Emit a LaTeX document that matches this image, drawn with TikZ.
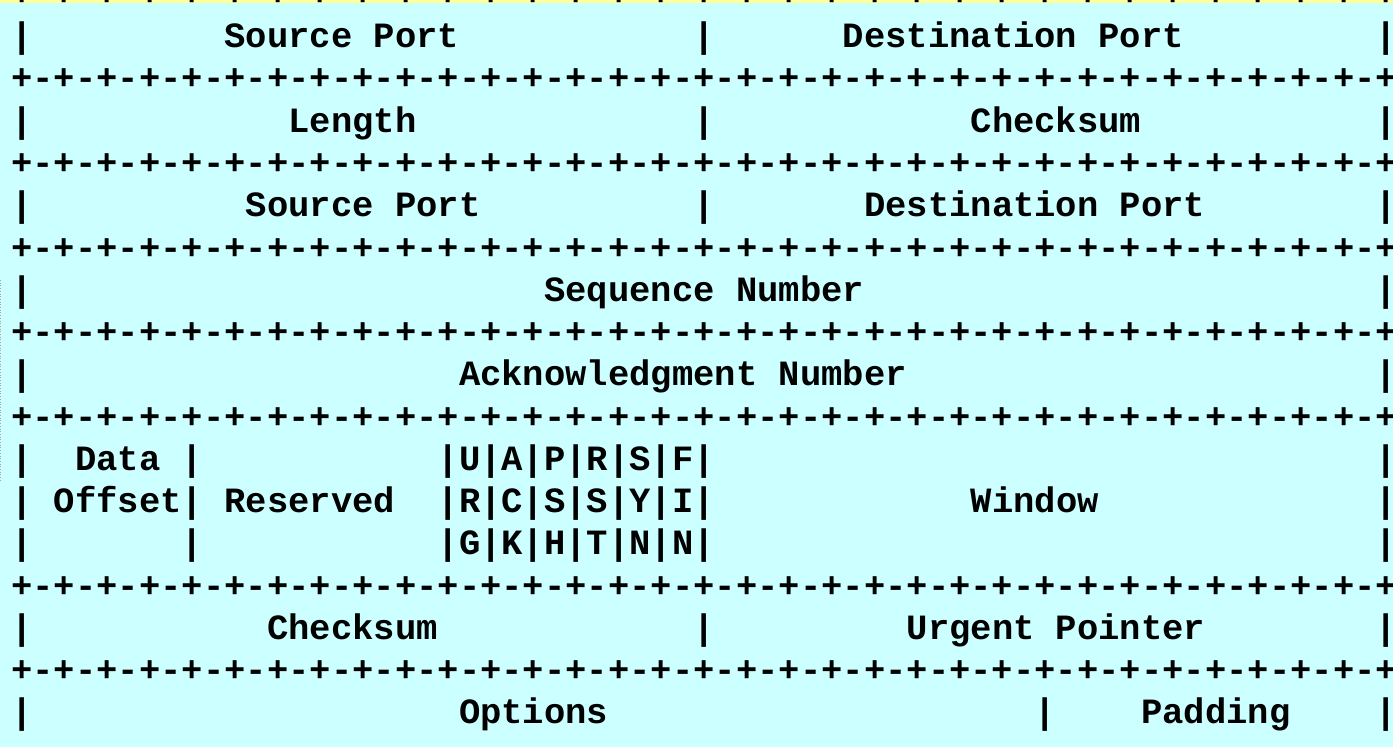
\documentclass[tikz,border=0pt]{standalone}
\usepackage{fontspec}
\setmonofont{Liberation Mono}
\definecolor{bgc}{HTML}{CCFFFF}
\definecolor{hdr}{HTML}{FFFF99}
\newcommand\gap[1]{\hspace*{\dimexpr 0.6em*#1\relax}}
\newcommand\pmpair{+-}
\newcommand\pmeight{\pmpair\pmpair\pmpair\pmpair\pmpair\pmpair\pmpair\pmpair}
\newcommand\plusline{\pmeight\pmeight\pmeight\pmeight+}
\begin{document}
\begin{tikzpicture}[x=1pt,y=1pt,
  txt/.style={anchor=base west, inner sep=0pt, outer sep=0pt,
    font=\fontsize{35.53}{42}\selectfont\ttfamily\bfseries}]
\useasboundingbox (0,0) rectangle (1393,-747);
\fill[bgc] (0,0) rectangle (1393,-747);
\fill[hdr] (0,0) rectangle (1393,-3.3);
\draw[gray!70, dotted, line width=0.7pt] (0.6,-280) -- (0.6,-482);
\begin{scope}
\clip (0,0) rectangle (1393,-747);
\foreach \k in {-1,1,3,5,7,9,13,15}
  \node[txt] (p\k) at (11.34,{-(47.7+42.26*\k)}) {\plusline};
\node[txt] (l0) at (11.34,{-(47.7+42.26*0)})
  {|\gap{9}Source Port\gap{11}|\gap{6}Destination Port\gap{9}|};
\node[txt] (l2) at (11.34,{-(47.7+42.26*2)})
  {|\gap{12}Length\gap{13}|\gap{12}Checksum\gap{11}|};
\node[txt] (l4) at (11.34,{-(47.7+42.26*4)})
  {|\gap{10}Source Port\gap{10}|\gap{7}Destination Port\gap{8}|};
\node[txt] (l6) at (11.34,{-(47.7+42.26*6)})
  {|\gap{24}Sequence Number\gap{24}|};
\node[txt] (l8) at (11.34,{-(47.7+42.26*8)})
  {|\gap{20}Acknowledgment Number\gap{22}|};
\node[txt] (l10) at (11.34,{-(47.7+42.26*10)})
  {|\gap{2}Data\gap{1}|\gap{11}|U|A|P|R|S|F|\gap{31}|};
\node[txt] (l11) at (11.34,{-(47.7+42.26*11)})
  {|\gap{1}Offset|\gap{1}Reserved\gap{2}|R|C|S|S|Y|I|\gap{12}Window\gap{13}|};
\node[txt] (l12) at (11.34,{-(47.7+42.26*12)})
  {|\gap{7}|\gap{11}|G|K|H|T|N|N|\gap{31}|};
\node[txt] (l14) at (11.34,{-(47.7+42.26*14)})
  {|\gap{11}Checksum\gap{12}|\gap{9}Urgent Pointer\gap{8}|};
\node[txt] (l16) at (11.34,{-(47.7+42.26*16)})
  {|\gap{20}Options\gap{20}|\gap{4}Padding\gap{4}|};
\end{scope}
\end{tikzpicture}
\end{document}
